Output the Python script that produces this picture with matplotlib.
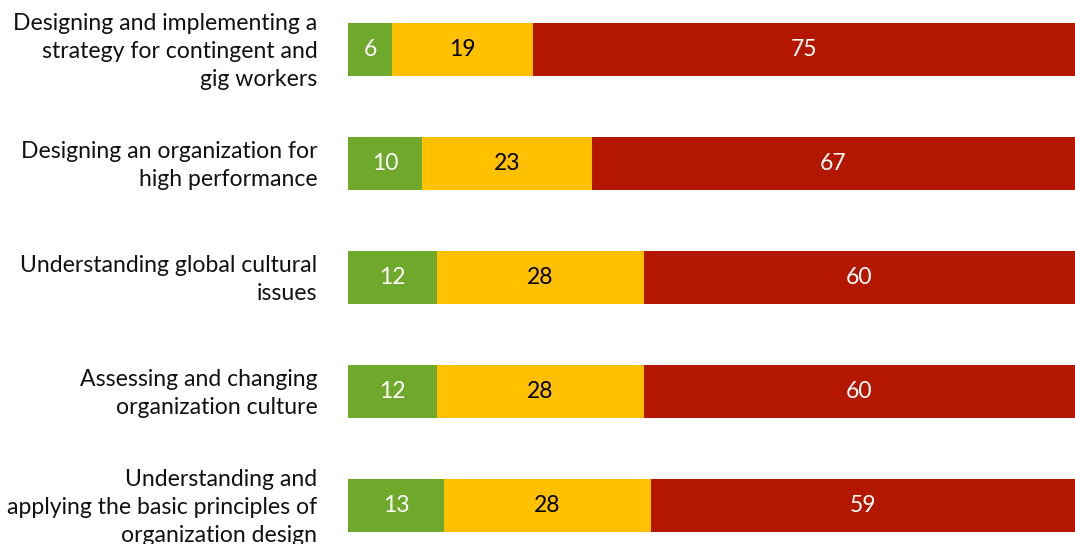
import matplotlib.pyplot as plt
import matplotlib.transforms as mtransforms
import numpy as np

# Survey items and their stacked percentages
items = [
    "Designing and implementing a\nstrategy for contingent and\ngig workers",
    "Designing an organization for\nhigh performance",
    "Understanding global cultural\nissues",
    "Assessing and changing\norganization culture",
    "Understanding and\napplying the basic principles of\norganization design",
]
green_vals = [6, 10, 12, 12, 13]
yellow_vals = [19, 23, 28, 28, 28]
red_vals = [75, 67, 60, 60, 59]

colors = ["#6ea92c", "#ffc000", "#b41700"]
text_colors = ["white", "black", "white"]

plt.rcParams['font.family'] = ['Lato', 'DejaVu Sans']

fig = plt.figure(figsize=(10.75, 5.44), dpi=100)
ax = fig.add_axes([348 / 1075, 0, 1 - 348 / 1075, 1])

y = np.arange(len(items))
left = np.zeros(len(items))
for vals, c, tc in zip([green_vals, yellow_vals, red_vals], colors, text_colors):
    vals = np.array(vals)
    bars = ax.barh(y, vals, left=left, height=0.465, color=c)
    ax.bar_label(bars, labels=[str(v) for v in vals], label_type='center',
                 color=tc, fontsize=16.5)
    left += vals

# the red segments run off the right edge
ax.set_xlim(0, 98.4)
ax.set_ylim(4.342, -0.430)
ax.set_yticks(y)
ax.set_yticklabels(items, fontsize=16.6, color="#111111", ha='right',
                   linespacing=1.40)
ax.tick_params(axis='y', length=0, pad=22)
ax.set_xticks([])
for s in ax.spines.values():
    s.set_visible(False)

# nudge the category labels up a little
nudge = mtransforms.ScaledTranslation(0, 3 / 100, fig.dpi_scale_trans)
for lbl in ax.get_yticklabels():
    lbl.set_transform(lbl.get_transform() + nudge)

fig.savefig("out.png", dpi=100)
